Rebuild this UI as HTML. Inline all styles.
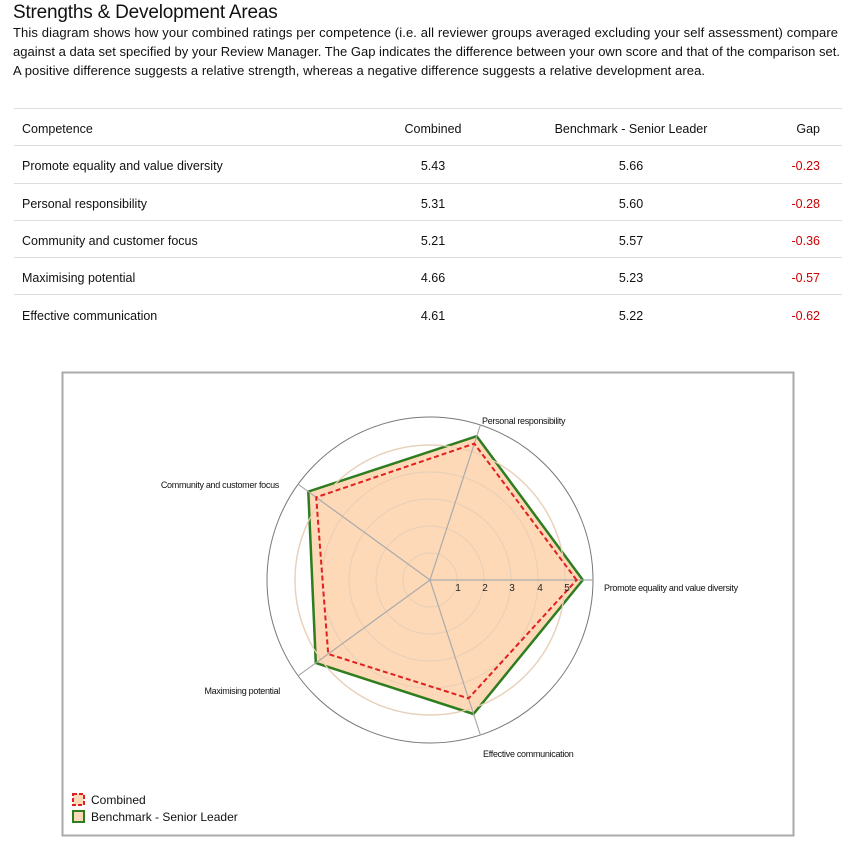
<!DOCTYPE html>
<html><head><meta charset="utf-8"><style>
body{margin:0;background:#fff;font-family:"Liberation Sans",sans-serif;color:#111;width:856px;height:842px;position:relative;overflow:hidden}
h1{position:absolute;left:13px;top:2px;margin:0;font-size:19px;font-weight:normal;letter-spacing:-0.2px}
table{position:absolute;left:14px;top:108px;width:828px;border-collapse:collapse;font-size:12.5px;table-layout:fixed}
td{height:32.3px;padding:4px 0 0 0;border-top:1.5px solid #ddd}
td.c{text-align:center}td.g{text-align:right;padding-right:22px;color:#c00}
td.n{padding-left:8px}
</style></head><body>
<h1>Strengths &amp; Development Areas</h1>
<svg width="856" height="100" style="position:absolute;left:0;top:0" font-family="Liberation Sans, sans-serif" font-size="13" fill="#111">
<text x="13" y="37" textLength="825" lengthAdjust="spacing">This diagram shows how your combined ratings per competence (i.e. all reviewer groups averaged excluding your self assessment) compare</text>
<text x="13" y="56" textLength="827" lengthAdjust="spacing">against a data set specified by your Review Manager. The Gap indicates the difference between your own score and that of the comparison set.</text>
<text x="13" y="75" textLength="692" lengthAdjust="spacing">A positive difference suggests a relative strength, whereas a negative difference suggests a relative development area.</text>
</svg>
<table>
<colgroup><col style="width:369px"><col style="width:100px"><col style="width:296px"><col style="width:63px"></colgroup>
<tr><td class="n">Competence</td><td class="c">Combined</td><td class="c">Benchmark - Senior Leader</td><td class="g" style="color:#111">Gap</td></tr>
<tr><td class="n">Promote equality and value diversity</td><td class="c">5.43</td><td class="c">5.66</td><td class="g">-0.23</td></tr>
<tr><td class="n">Personal responsibility</td><td class="c">5.31</td><td class="c">5.60</td><td class="g">-0.28</td></tr>
<tr><td class="n">Community and customer focus</td><td class="c">5.21</td><td class="c">5.57</td><td class="g">-0.36</td></tr>
<tr><td class="n">Maximising potential</td><td class="c">4.66</td><td class="c">5.23</td><td class="g">-0.57</td></tr>
<tr><td class="n">Effective communication</td><td class="c">4.61</td><td class="c">5.22</td><td class="g">-0.62</td></tr>
</table>
<svg width="856" height="842" style="position:absolute;left:0;top:0" font-family="Liberation Sans, sans-serif">
<rect x="62.5" y="372.5" width="731" height="463" fill="#fff" stroke="#aaa" stroke-width="2"/>
<g fill="none" stroke="#e2e2e2" stroke-width="1.5">
<circle cx="430" cy="580" r="27"/><circle cx="430" cy="580" r="54"/><circle cx="430" cy="580" r="81"/><circle cx="430" cy="580" r="108"/><circle cx="430" cy="580" r="135"/>
</g>
<polygon points="582.8,580 476.7,436.2 308.3,491.6 315.8,663 473.5,714" fill="#fdd9b8" stroke="#2e7d1e" stroke-width="2.5"/>
<g fill="none" stroke="#ebd0b6" stroke-width="1.2">
<circle cx="430" cy="580" r="27"/><circle cx="430" cy="580" r="54"/><circle cx="430" cy="580" r="81"/><circle cx="430" cy="580" r="108"/><circle cx="430" cy="580" r="135"/>
</g>
<circle cx="430" cy="580" r="163" fill="none" stroke="#777" stroke-width="1"/>
<g stroke="#aaa" stroke-width="1.2">
<line x1="430" y1="580" x2="593" y2="580"/><line x1="430" y1="580" x2="480.4" y2="425"/><line x1="430" y1="580" x2="298.1" y2="484.2"/><line x1="430" y1="580" x2="298.1" y2="675.8"/><line x1="430" y1="580" x2="480.4" y2="735"/>
</g>
<polygon points="576.6,580 474.3,443.6 316.2,497.3 328.2,654 468.5,698.4" fill="none" stroke="#e02020" stroke-width="2" stroke-dasharray="5,3"/>
<g font-size="10" fill="#222" text-anchor="middle">
<text x="458" y="591">1</text><text x="485" y="591">2</text><text x="512" y="591">3</text><text x="540" y="591">4</text><text x="567" y="591">5</text>
</g>
<g font-size="9" fill="#111" letter-spacing="-0.3">
<text x="482" y="424">Personal responsibility</text>
<text x="604" y="591">Promote equality and value diversity</text>
<text x="483" y="757">Effective communication</text>
<text x="280" y="694" text-anchor="end">Maximising potential</text>
<text x="279" y="488" text-anchor="end">Community and customer focus</text>
</g>
<rect x="73" y="794" width="11" height="11" fill="#fdd9b8" stroke="#e02020" stroke-width="2" stroke-dasharray="4,2"/>
<rect x="73" y="811" width="11" height="11" fill="#fdd9b8" stroke="#2e7d1e" stroke-width="2"/>
<text x="91" y="804" font-size="12" fill="#111">Combined</text>
<text x="91" y="821" font-size="12" fill="#111">Benchmark - Senior Leader</text>
</svg>
</body></html>
